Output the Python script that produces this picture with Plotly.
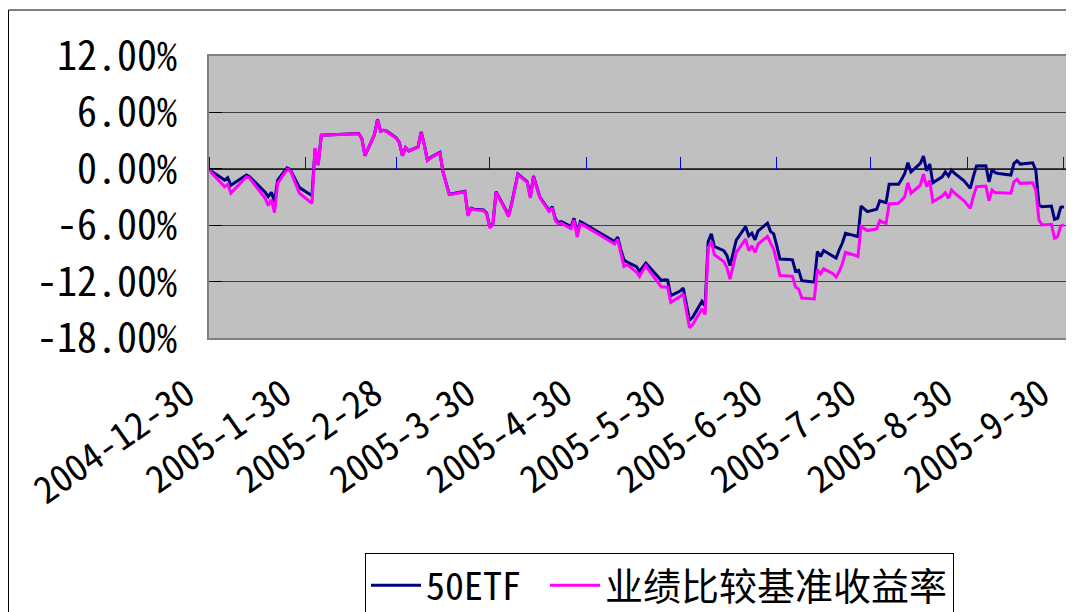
import plotly.graph_objects as go

# ---- data (cumulative return, %) ----
dates = [
    "2004-12-30", "2004-12-31", "2005-01-04", "2005-01-05", "2005-01-06", "2005-01-11", "2005-01-12",
    "2005-01-17", "2005-01-18", "2005-01-19", "2005-01-20", "2005-01-21", "2005-01-24", "2005-01-25",
    "2005-01-28", "2005-02-01", "2005-02-02", "2005-02-03", "2005-02-04", "2005-02-16", "2005-02-17",
    "2005-02-18", "2005-02-21", "2005-02-22", "2005-02-23", "2005-02-24", "2005-02-25", "2005-02-28",
    "2005-03-01", "2005-03-02", "2005-03-03", "2005-03-04", "2005-03-07", "2005-03-08", "2005-03-09",
    "2005-03-10", "2005-03-11", "2005-03-14", "2005-03-15", "2005-03-16", "2005-03-17", "2005-03-18",
    "2005-03-21", "2005-03-22", "2005-03-23", "2005-03-24", "2005-03-25", "2005-03-28", "2005-03-29",
    "2005-03-30", "2005-03-31", "2005-04-01", "2005-04-04", "2005-04-05", "2005-04-06", "2005-04-07",
    "2005-04-08", "2005-04-11", "2005-04-12", "2005-04-13", "2005-04-14", "2005-04-15", "2005-04-18",
    "2005-04-19", "2005-04-20", "2005-04-21", "2005-04-22", "2005-04-25", "2005-04-26", "2005-04-27",
    "2005-04-28", "2005-04-29", "2005-05-09", "2005-05-10", "2005-05-11", "2005-05-12", "2005-05-13",
    "2005-05-16", "2005-05-17", "2005-05-18", "2005-05-19", "2005-05-20", "2005-05-23", "2005-05-24",
    "2005-05-25", "2005-05-26", "2005-05-27", "2005-05-30", "2005-05-31", "2005-06-01", "2005-06-02",
    "2005-06-03", "2005-06-06", "2005-06-07", "2005-06-08", "2005-06-09", "2005-06-10", "2005-06-13",
    "2005-06-14", "2005-06-15", "2005-06-16", "2005-06-17", "2005-06-20", "2005-06-21", "2005-06-22",
    "2005-06-23", "2005-06-24", "2005-06-27", "2005-06-28", "2005-06-29", "2005-06-30", "2005-07-01",
    "2005-07-04", "2005-07-05", "2005-07-06", "2005-07-07", "2005-07-08", "2005-07-11", "2005-07-12",
    "2005-07-13", "2005-07-14", "2005-07-15", "2005-07-18", "2005-07-19", "2005-07-20", "2005-07-21",
    "2005-07-22", "2005-07-25", "2005-07-26", "2005-07-27", "2005-07-28", "2005-07-29", "2005-08-01",
    "2005-08-02", "2005-08-03", "2005-08-04", "2005-08-05", "2005-08-08", "2005-08-09", "2005-08-10",
    "2005-08-11", "2005-08-12", "2005-08-15", "2005-08-16", "2005-08-17", "2005-08-18", "2005-08-19",
    "2005-08-22", "2005-08-23", "2005-08-24", "2005-08-25", "2005-08-26", "2005-08-29", "2005-08-30",
    "2005-08-31", "2005-09-01", "2005-09-02", "2005-09-05", "2005-09-06", "2005-09-07", "2005-09-08",
    "2005-09-09", "2005-09-12", "2005-09-13", "2005-09-14", "2005-09-15", "2005-09-16", "2005-09-19",
    "2005-09-20", "2005-09-21", "2005-09-22", "2005-09-23", "2005-09-26", "2005-09-27", "2005-09-28",
    "2005-09-29", "2005-09-30",
]

etf_50 = [
    0.00, -0.30, -1.20, -0.95, -1.75, -0.67, -0.85,
    -2.50, -2.97, -2.50, -3.50, -1.20, 0.10, -0.07,
    -2.00, -2.86, 2.16, 0.50, 3.57, 3.75, 3.20,
    1.40, 3.60, 5.25, 4.00, 4.10, 4.00, 3.30,
    2.80, 1.40, 2.27, 1.90, 2.33, 3.92, 2.60,
    0.92, 1.20, 1.74, -0.32, -1.60, -2.70, -2.65,
    -2.44, -2.40, -4.90, -4.20, -4.30, -4.38, -4.73,
    -6.20, -5.86, -2.44, -4.30, -5.00, -3.67, -2.19,
    -0.56, -1.38, -3.03, -0.77, -2.00, -2.97, -4.45,
    -4.03, -5.30, -5.73, -5.62, -6.15, -5.26, -6.85,
    -5.62, -5.80, -7.74, -7.27, -8.60, -9.68, -9.93,
    -10.40, -10.92, -10.50, -10.03, -10.39, -11.50, -11.88,
    -11.80, -11.85, -13.50, -13.00, -12.68, -14.50, -16.10,
    -15.80, -14.10, -14.60, -7.74, -6.92, -8.27, -8.70,
    -9.22, -10.30, -9.05, -7.60, -6.15, -7.14, -6.85,
    -7.56, -6.60, -5.79, -6.68, -6.92, -8.20, -9.60,
    -9.65, -9.68, -10.90, -10.80, -11.90, -12.00, -12.05,
    -8.80, -9.33, -8.70, -9.26, -9.50, -8.62, -7.90,
    -6.85, -7.10, -7.20, -3.96, -4.30, -4.56, -4.30,
    -3.40, -3.50, -3.60, -1.65, -1.65, -1.12, -0.49,
    0.64, -0.32, 0.57, 1.35, -0.21, 0.50, -1.48,
    -0.85, -0.32, -0.77, -0.14, -0.49, -1.27, -1.70,
    -2.08, -0.80, 0.29, 0.32, -1.38, -0.07, -0.42,
    -0.50, -0.60, -0.67, 0.57, 0.85, 0.50, 0.60,
    0.64, -0.14, -3.85, -4.03, -3.96, -5.37, -5.26,
    -4.10, -4.03,
]

benchmark = [
    0.00, -0.50, -1.90, -1.65, -2.60, -0.85, -1.00,
    -3.14, -3.90, -3.30, -4.66, -1.55, -0.07, -0.14,
    -2.60, -3.67, 2.20, 0.35, 3.57, 3.72, 3.20,
    1.40, 3.60, 5.20, 4.00, 4.10, 3.95, 3.25,
    2.75, 1.40, 2.25, 1.90, 2.30, 3.85, 2.55,
    0.90, 1.15, 1.70, -0.35, -1.65, -2.75, -2.70,
    -2.50, -2.45, -5.00, -4.25, -4.35, -4.45, -4.80,
    -6.30, -5.90, -2.50, -4.40, -5.10, -3.75, -2.25,
    -0.60, -1.45, -3.10, -0.85, -2.10, -3.05, -4.55,
    -4.15, -5.50, -5.85, -5.80, -6.35, -5.45, -7.27,
    -5.85, -6.00, -8.00, -7.50, -9.00, -10.39, -10.20,
    -11.00, -11.45, -10.90, -10.30, -10.80, -12.20, -12.58,
    -12.58, -12.60, -14.20, -13.60, -13.30, -15.20, -16.90,
    -16.60, -14.90, -15.50, -8.44, -7.74, -9.15, -9.86,
    -10.50, -11.73, -10.30, -8.90, -7.49, -8.70, -8.20,
    -8.90, -8.00, -7.20, -7.90, -8.55, -9.90, -11.35,
    -11.40, -11.45, -12.58, -12.80, -13.74, -13.80, -13.85,
    -10.74, -11.17, -10.64, -11.17, -11.52, -10.92, -10.10,
    -8.90, -9.20, -9.33, -6.15, -6.40, -6.57, -6.40,
    -5.50, -5.70, -5.80, -3.74, -3.67, -3.32, -2.97,
    -1.48, -2.60, -1.73, -0.56, -1.90, -1.27, -3.50,
    -2.90, -2.54, -3.14, -2.26, -2.60, -3.40, -3.80,
    -4.20, -2.90, -1.90, -1.83, -3.40, -2.26, -2.54,
    -2.55, -2.58, -2.60, -1.38, -1.12, -1.55, -1.50,
    -1.48, -2.26, -5.44, -5.97, -5.90, -7.38, -7.20,
    -6.07, -5.97,
]

series_names = ["50ETF\u00a0", "业绩比较基准收益率"]
series_colors = ["#000080", "#FF00FF"]

x_tick_vals = ["2004-12-30", "2005-01-30", "2005-02-28", "2005-03-30", "2005-04-30",
               "2005-05-30", "2005-06-30", "2005-07-30", "2005-08-30", "2005-09-30"]
x_tick_text = ["2004-12-30", "2005-1-30", "2005-2-28", "2005-3-30", "2005-4-30",
               "2005-5-30", "2005-6-30", "2005-7-30", "2005-8-30", "2005-9-30"]
y_tick_vals = [12, 6, 0, -6, -12, -18]
y_tick_text = ["12.00%", "6.00%", "0.00%", "-6.00%", "-12.00%", "-18.00%"]

FONT = "Noto Sans Mono CJK SC, Noto Sans CJK SC, sans-serif"

# page has an 8px body margin, so the figure is sized/offset to compensate
W, H = 1066, 604
ML, MR, MT, MB = 201, 7, 48, 274
PW, PH = W - ML - MR, H - MT - MB

fig = go.Figure()
fig.add_trace(go.Scatter(x=dates, y=etf_50, mode="lines", name=series_names[0],
                         line=dict(color=series_colors[0], width=3)))
fig.add_trace(go.Scatter(x=dates, y=benchmark, mode="lines", name=series_names[1],
                         line=dict(color=series_colors[1], width=3)))
# empty helper trace so the zero-crossing category axis (x2) is drawn
fig.add_trace(go.Scatter(x=dates[:1], y=[None], xaxis="x2", yaxis="y",
                         showlegend=False, hoverinfo="skip", mode="lines"))

x_range = ["2004-12-30", "2005-10-01"]

fig.update_layout(
    width=W, height=H,
    margin=dict(l=ML, r=MR, t=MT, b=MB, autoexpand=False),
    paper_bgcolor="white",
    plot_bgcolor="#C0C0C0",
    font=dict(family=FONT, color="black"),
    xaxis=dict(
        type="date", range=x_range,
        tickvals=x_tick_vals, ticktext=x_tick_text, tickangle=-35,
        tickfont=dict(size=37, family=FONT),
        showgrid=False, zeroline=False,
        showline=True, linecolor="#808080", linewidth=2, mirror=True,
        ticks="", ticklabelstandoff=18, ticklabelshift=-22,
        automargin=False,
    ),
    xaxis2=dict(
        type="date", range=x_range, overlaying="x", matches="x",
        anchor="free", position=0.6, side="top",
        tickvals=x_tick_vals, showticklabels=False,
        ticks="outside", ticklen=12, tickcolor="#0000FF", tickwidth=1,
        showline=True, linecolor="#0000FF", linewidth=1,
        showgrid=False, zeroline=False,
    ),
    yaxis=dict(
        range=[-18, 12], tickvals=y_tick_vals, ticktext=y_tick_text,
        tickfont=dict(size=40, family=FONT),
        showgrid=True, gridcolor="#404040", gridwidth=1,
        zeroline=False,
        showline=True, linecolor="#808080", linewidth=2, mirror=True,
        ticks="inside", ticklen=13, tickcolor="black", tickwidth=1,
        ticklabelstandoff=22, automargin=False,
    ),
    legend=dict(
        orientation="h", x=(357 - ML) / PW, xanchor="left",
        y=(MT + PH - 545) / PH, yanchor="top",
        bordercolor="black", borderwidth=1, bgcolor="white",
        font=dict(size=38, family=FONT),
        itemwidth=50,
    ),
    shapes=[dict(type="rect", xref="paper", yref="paper",
                 x0=(0.5 - ML) / PW, x1=1.2, y0=-1.5, y1=(MT + PH - 2) / PH,
                 line=dict(color="black", width=1), layer="below")],
)

fig.write_html("out.html")
